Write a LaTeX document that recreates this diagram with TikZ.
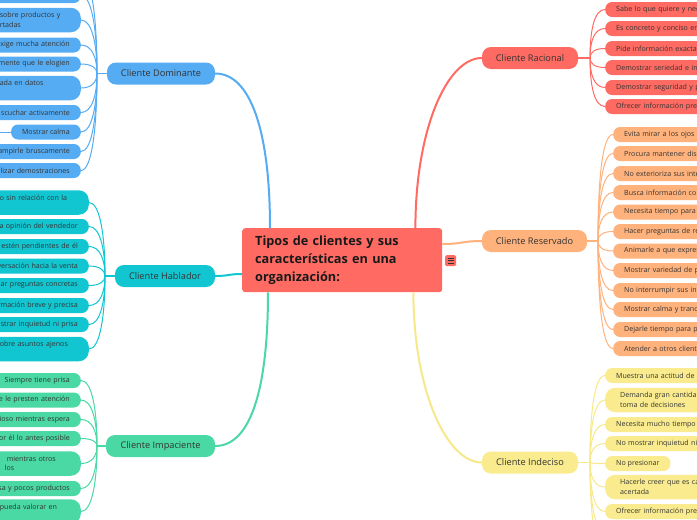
\documentclass[tikz,border=0pt]{standalone}
\usepackage{fontspec}
\setmainfont{Open Sans}
\usetikzlibrary{calc}
\definecolor{cred}{HTML}{FF6B63}
\definecolor{corange}{HTML}{FFB27C}
\definecolor{cyellow}{HTML}{FAEC8E}
\definecolor{cyline}{HTML}{F7E88A}
\definecolor{cblue}{HTML}{56ACF2}
\definecolor{ccyan}{HTML}{12C6D1}
\definecolor{cgreen}{HTML}{4AD8A4}
\definecolor{ctext}{HTML}{333333}
\newcommand\lcon[3]{\draw[#3] (#1.east) .. controls +(11,0) and ($(#2)!0.55!(#2 |- #1.east)$) .. (#2);}
\newcommand\rcon[3]{\draw[#3] (#1.west) .. controls +(-11,0) and ($(#2)!0.55!(#2 |- #1.west)$) .. (#2);}
\tikzset{
  leaf/.style={rounded corners=7pt, inner ysep=0pt, inner xsep=11pt, minimum height=15pt,
    font=\fontsize{7.1}{9.5}\selectfont, text=ctext},
  lone/.style={leaf, anchor=east, text width=150pt, align=right},
  ltwo/.style={leaf, anchor=east, text width=70pt, align=left, minimum height=24.5pt, rounded corners=10pt},
  rone/.style={leaf, anchor=west, text width=150pt, align=left},
  rtwo/.style={leaf, anchor=west, text width=150pt, align=left, minimum height=24.5pt, inner xsep=15pt, rounded corners=10pt},
  branch/.style={rounded corners=9pt, minimum height=22pt, inner sep=0pt,
    font=\fontsize{9.2}{11}\selectfont, text=ctext},
  dline/.style={draw=cblue, line width=1pt},
  hline/.style={draw=ccyan, line width=1pt},
  iline/.style={draw=cgreen, line width=1pt},
  aline/.style={draw=cred, line width=1pt},
  sline/.style={draw=corange, line width=1pt},
  nline/.style={draw=cyline, line width=1pt},
  bigline/.style={line width=2pt},
}
\begin{document}
\begin{tikzpicture}[x=1pt,y=-1pt]
\useasboundingbox (0,0) rectangle (697,520);
\clip (0,0) rectangle (697,520);
\fill[white] (0,0) rectangle (697,520);

% central node
\node[anchor=north west, fill=cred, rounded corners=3pt, minimum width=200pt, minimum height=64pt,
  text width=174pt, inner xsep=13pt, inner ysep=0pt, align=left,
  font=\bfseries\fontsize{12.7}{18}\selectfont, text=black!90] (center) at (242,228)
  {Tipos de clientes y sus\\características en una\\organización:};
\node[fill=cred, rounded corners=1.5pt, minimum size=11pt, inner sep=0pt, anchor=north west] (menu) at (445,255) {};
\foreach \dy in {-2.5,0,2.5}
  \draw[ctext, line width=0.9pt] ($(menu.center)+(-2.8,\dy)$) -- ++(5.6,0);

% branch nodes
\node[branch, fill=cblue, minimum width=108pt] (dom) at (161,73.5) {Cliente Dominante};
\node[branch, fill=ccyan, minimum width=100pt] (hab) at (165,276) {Cliente Hablador};
\node[branch, fill=cgreen, minimum width=109pt] (imp) at (160.5,446) {Cliente Impaciente};
\node[branch, fill=cred, minimum width=96pt] (rac) at (530,58) {Cliente Racional};
\node[branch, fill=corange, minimum width=105pt] (res) at (534.5,241) {Cliente Reservado};
\node[branch, fill=cyellow, minimum width=96pt] (ind) at (530,462.5) {Cliente Indeciso};

% junction points
\coordinate (dconv) at (97,73.5);
\coordinate (hconv) at (105,276);
\coordinate (iconv) at (97,446);
\coordinate (aconv) at (590,58);
\coordinate (sconv) at (598,241);
\coordinate (nconv) at (590,462.5);

% branch to centre
\coordinate (cdom) at ($(center.north west)+(28,0)$);
\coordinate (chab) at ($(center.north west)+(0,46)$);
\coordinate (cimp) at ($(center.south west)+(26,0)$);
\coordinate (crac) at ($(center.north east)+(-27,0)$);
\coordinate (cres) at ($(center.north east)+(0,16)$);
\coordinate (cind) at ($(center.south east)+(-29,0)$);
\draw[dline, bigline] (dom.east) .. controls +(35,0) and +(0,-98) .. (cdom);
\draw[hline, bigline] (hab.east) .. controls +(14,0) and +(-14,0) .. (chab);
\draw[iline, bigline] (imp.east) .. controls +(35,0) and +(0,98) .. (cimp);
\draw[aline, bigline] (rac.west) .. controls +(-35,0) and +(0,-98) .. (crac);
\draw[sline, bigline] (res.west) .. controls +(-20,0) and +(20,0) .. (cres);
\draw[nline, bigline] (ind.west) .. controls +(-35,0) and +(0,98) .. (cind);

% ---- Cliente Dominante leaves
\coordinate (d00) at (81,-24);
\node[lone, fill=cblue] (d0) at (81,-4.5) {};
\node[ltwo, fill=cblue] (d1) at (81,20) {sobre productos y\\rtadas};
\node[lone, fill=cblue] (d2) at (81,45) {xige mucha atención};
\node[lone, fill=cblue] (d3) at (81,64) {mente que le elogien};
\node[ltwo, fill=cblue] (d4) at (81,88) {ada en datos\\\mbox{}};
\node[lone, fill=cblue] (d5) at (81,112.5) {scuchar activamente};
\node[leaf, anchor=east, fill=cblue] (d6) at (81,132) {Mostrar calma};
\node[lone, fill=cblue] (d7) at (81,151.5) {ampirle bruscamente};
\node[lone, fill=cblue] (d8) at (81,170.5) {lizar demostraciones};
\coordinate (d6out) at (-10,132);
\draw[dline] (d6.west) -- (d6out);
\draw[dline] (d00) .. controls +(11,0) and ($(dconv)!0.55!(dconv |- d00)$) .. (dconv);
\foreach \n in {d0,d1,d2,d3,d4,d5,d6,d7,d8} {\lcon{\n}{dconv}{dline}}
\draw[dline, line width=1.5pt] (dconv) -- (dom.west);

% ---- Cliente Hablador leaves
\node[ltwo, fill=ccyan, text width=78pt] (h1) at (89,202.5) {o sin relación con la\\\mbox{}};
\node[lone, fill=ccyan] (h2) at (89,226.5) {la opinión del vendedor};
\node[lone, fill=ccyan] (h3) at (89,246.5) {estén pendientes de él};
\node[lone, fill=ccyan] (h4) at (89,266) {versación hacia la venta};
\node[lone, fill=ccyan] (h5) at (89,285.5) {ar preguntas concretas};
\node[lone, fill=ccyan] (h6) at (89,305.5) {rmación breve y precisa};
\node[lone, fill=ccyan] (h7) at (89,324.5) {strar inquietud ni prisa};
\node[ltwo, fill=ccyan, text width=78pt] (h8) at (89,349) {obre asuntos ajenos\\\mbox{}};
\foreach \n in {h1,h2,h3,h4,h5,h6,h7,h8} {\lcon{\n}{hconv}{hline}}
\draw[hline, line width=1.5pt] (hconv) -- (hab.west);

% ---- Cliente Impaciente leaves
\node[lone, fill=cgreen] (i1) at (81,380.5) {Siempre tiene prisa};
\node[lone, fill=cgreen] (i2) at (81,400) {e le presten atención};
\node[lone, fill=cgreen] (i3) at (81,419.5) {ioso mientras espera};
\node[lone, fill=cgreen] (i4) at (81,438.5) {or él lo antes posible};
\node[ltwo, fill=cgreen] (i5) at (81,463.5) {\hspace*{7pt}mientras otros\\\hspace*{5pt}los};
\node[lone, fill=cgreen] (i6) at (81,488.5) {sa y pocos productos};
\node[ltwo, fill=cgreen] (i7) at (81,511.5) {pueda valorar en\\\mbox{}};
\foreach \n in {i1,i2,i3,i4,i5,i6,i7} {\lcon{\n}{iconv}{iline}}
\draw[iline, line width=1.5pt] (iconv) -- (imp.west);

% ---- Cliente Racional leaves
\node[rone, fill=cred] (a1) at (605,9.5) {Sabe lo que quiere y nec};
\node[rone, fill=cred] (a2) at (605,28.5) {Es concreto y conciso en};
\node[rone, fill=cred] (a3) at (605,48.5) {Pide información exacta};
\node[rone, fill=cred] (a4) at (605,67.5) {Demostrar seriedad e in};
\node[rone, fill=cred] (a5) at (605,87.5) {Demostrar seguridad y p};
\node[rone, fill=cred] (a6) at (605,106.5) {Ofrecer información pre};
\foreach \n in {a1,a2,a3,a4,a5,a6} {\rcon{\n}{aconv}{aline}}
\draw[aline, line width=1.5pt] (aconv) -- (rac.east);

% ---- Cliente Reservado leaves
\node[rone, fill=corange] (s1) at (613,134.5) {Evita mirar a los ojos};
\node[rone, fill=corange] (s2) at (613,153.5) {Procura mantener dis};
\node[rone, fill=corange] (s3) at (613,173.5) {No exterioriza sus inte};
\node[rone, fill=corange] (s4) at (613,192.5) {Busca información co};
\node[rone, fill=corange] (s5) at (613,212) {Necesita tiempo para};
\node[rone, fill=corange] (s6) at (613,231.5) {Hacer preguntas de re};
\node[rone, fill=corange] (s7) at (613,251) {Animarle a que expres};
\node[rone, fill=corange] (s8) at (613,270.5) {Mostrar variedad de p};
\node[rone, fill=corange] (s9) at (613,290.5) {No interrumpir sus in};
\node[rone, fill=corange] (s10) at (613,309.5) {Mostrar calma y tranc};
\node[rone, fill=corange] (s11) at (613,329.5) {Dejarle tiempo para p};
\node[rone, fill=corange] (s12) at (613,348.5) {Atender a otros client};
\foreach \n in {s1,s2,s3,s4,s5,s6,s7,s8,s9,s10,s11,s12} {\rcon{\n}{sconv}{sline}}
\draw[sline, line width=1.5pt] (sconv) -- (res.east);

% ---- Cliente Indeciso leaves
\node[rone, fill=cyellow] (n1) at (605,375.5) {Muestra una actitud de};
\node[rtwo, fill=cyellow] (n2) at (605,400) {Demanda gran cantida\\toma de decisiones};
\node[rone, fill=cyellow] (n3) at (605,424.5) {Necesita mucho tiempo};
\node[rone, fill=cyellow] (n4) at (605,443.5) {No mostrar inquietud ni};
\node[leaf, anchor=west, fill=cyellow] (n5) at (605,463.5) {No presionar};
\node[rtwo, fill=cyellow] (n6) at (605,487) {Hacerle creer que es ca\\acertada};
\node[rone, fill=cyellow] (n7) at (605,511.5) {Ofrecer información pre};
\coordinate (n8) at (605,531);
\coordinate (n9) at (605,550.5);
\foreach \n in {n1,n2,n3,n4,n5,n6,n7} {\rcon{\n}{nconv}{nline}}
\draw[nline] (n8) .. controls +(-11,0) and ($(nconv)!0.55!(nconv |- n8)$) .. (nconv);
\draw[nline] (n9) .. controls +(-11,0) and ($(nconv)!0.55!(nconv |- n9)$) .. (nconv);
\draw[nline, line width=1.5pt] (nconv) -- (ind.east);
\end{tikzpicture}
\end{document}
